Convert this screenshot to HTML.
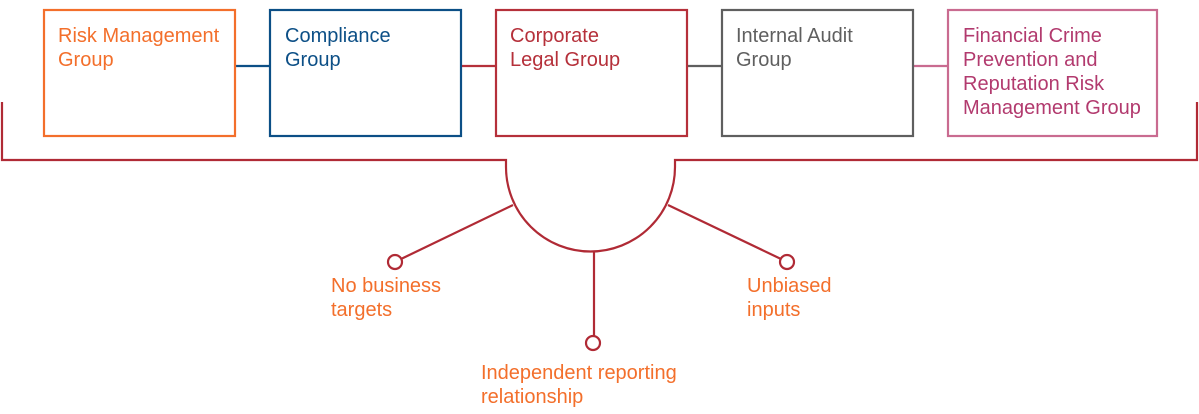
<!DOCTYPE html>
<html><head><meta charset="utf-8"><style>
html,body{margin:0;padding:0;background:#fff;}
svg{display:block}
text{font-family:"Liberation Sans Narrow","Liberation Sans",sans-serif;font-size:20px;}
</style></head><body>
<svg width="1199" height="414" viewBox="0 0 1199 414" xmlns="http://www.w3.org/2000/svg">
<g stroke-width="2.2" fill="none">
<line x1="235" y1="66" x2="270" y2="66" stroke="#0c4f86"/>
<line x1="461" y1="66" x2="496" y2="66" stroke="#b5303a"/>
<line x1="687" y1="66" x2="722" y2="66" stroke="#5f5f5f"/>
<line x1="913" y1="66" x2="948" y2="66" stroke="#c96b90"/>
<rect x="44" y="10" width="191" height="126" stroke="#f36f2b"/>
<rect x="270" y="10" width="191" height="126" stroke="#0c4f86"/>
<rect x="496" y="10" width="191" height="126" stroke="#b5303a"/>
<rect x="722" y="10" width="191" height="126" stroke="#5f5f5f"/>
<rect x="948" y="10" width="209" height="126" stroke="#c96b90"/>
<g stroke="#b02a35">
<path d="M2,102 L2,160 L506,160 L506,167 A84.5,84.5 0 0 0 675,167 L675,160 L1197,160 L1197,102"/>
<line x1="513" y1="205" x2="401" y2="259"/>
<line x1="668" y1="205" x2="781" y2="259"/>
<line x1="594" y1="251" x2="594" y2="336"/>
<circle cx="395" cy="262" r="7"/>
<circle cx="787" cy="262" r="7"/>
<circle cx="593" cy="343" r="7"/>
</g>
</g>
<g>
<text x="58" y="42" fill="#f36f2b">Risk Management<tspan x="58" dy="24">Group</tspan></text>
<text x="285" y="42" fill="#0c4f86">Compliance<tspan x="285" dy="24">Group</tspan></text>
<text x="510" y="42" fill="#b5303a">Corporate<tspan x="510" dy="24">Legal Group</tspan></text>
<text x="736" y="42" fill="#5f5f5f">Internal Audit<tspan x="736" dy="24">Group</tspan></text>
<text x="963" y="42" fill="#b23a6e">Financial Crime<tspan x="963" dy="24">Prevention and</tspan><tspan x="963" dy="24">Reputation Risk</tspan><tspan x="963" dy="24">Management Group</tspan></text>
<text x="331" y="292" fill="#f36f2b">No business<tspan x="331" dy="24">targets</tspan></text>
<text x="747" y="292" fill="#f36f2b">Unbiased<tspan x="747" dy="24">inputs</tspan></text>
<text x="481" y="379" fill="#f36f2b">Independent reporting<tspan x="481" dy="24">relationship</tspan></text>
</g>
</svg>
</body></html>
